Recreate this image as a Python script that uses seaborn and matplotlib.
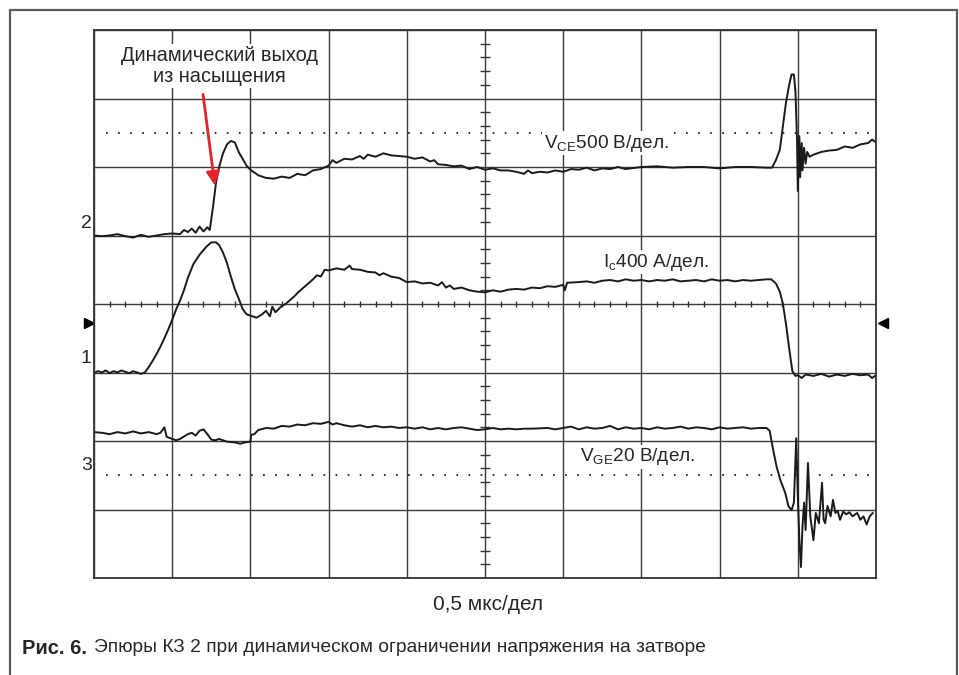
import numpy as np
import matplotlib
matplotlib.use("Agg")
import matplotlib.pyplot as plt
from matplotlib import font_manager
from matplotlib.lines import Line2D
import seaborn as sns

# %% data (divisions: 10 horizontal x 8 vertical)
vce_x = [0.0, 0.1, 0.2, 0.3, 0.4, 0.5, 0.6, 0.7, 0.8, 0.9, 1.0, 1.1, 1.15, 1.2, 1.25, 1.3, 1.35, 1.4, 1.45, 1.48,
         1.52, 1.56, 1.6, 1.65, 1.7, 1.75, 1.8, 1.85, 1.9, 1.95, 2.0, 2.1, 2.2, 2.3, 2.4, 2.5, 2.6, 2.7, 2.8, 2.9,
         3.0, 3.05, 3.1, 3.2, 3.3, 3.4, 3.45, 3.5, 3.6, 3.7, 3.8, 3.9, 4.0, 4.1, 4.2, 4.3, 4.35, 4.4, 4.5, 4.6,
         4.7, 4.8, 4.9, 5.0, 5.1, 5.2, 5.3, 5.4, 5.5, 5.55, 5.6, 5.7, 5.8, 5.9, 6.0, 6.1, 6.2, 6.3, 6.4, 6.5,
         6.6, 6.7, 6.8, 7.0, 7.2, 7.4, 7.6, 7.8, 8.0, 8.2, 8.4, 8.6, 8.67, 8.72, 8.77, 8.81, 8.85, 8.89, 8.92, 8.95,
         8.97, 8.99, 9.0, 9.02, 9.03, 9.05, 9.06, 9.08, 9.1, 9.12, 9.15, 9.2, 9.3, 9.4, 9.5, 9.6, 9.7, 9.8, 9.9, 9.95, 10.0]
vce_y = [5.00, 4.99, 5.00, 5.02, 4.99, 4.97, 5.01, 4.98, 5.00, 5.02, 5.03, 5.02, 5.08, 5.05, 5.10, 5.04, 5.13, 5.06, 5.12, 5.08,
         5.40, 5.77, 6.00, 6.20, 6.33, 6.38, 6.36, 6.22, 6.12, 6.02, 5.96, 5.88, 5.84, 5.83, 5.86, 5.84, 5.90, 5.88, 5.95, 5.97,
         6.02, 6.10, 6.06, 6.12, 6.11, 6.16, 6.12, 6.18, 6.15, 6.20, 6.17, 6.16, 6.15, 6.12, 6.14, 6.08, 6.10, 6.04, 6.03, 6.01,
         6.02, 5.97, 6.00, 5.96, 5.98, 5.95, 5.95, 5.93, 5.90, 5.95, 5.91, 5.93, 5.92, 5.95, 5.93, 5.97, 5.96, 5.99, 5.95, 5.98,
         5.97, 6.00, 5.97, 6.00, 6.01, 5.99, 6.00, 6.00, 5.98, 6.00, 6.00, 5.99, 5.99, 6.10, 6.25, 6.60, 6.95, 7.20, 7.35, 7.35,
         7.10, 6.40, 5.65, 6.45, 5.85, 6.35, 5.95, 6.28, 6.05, 6.22, 6.15, 6.18, 6.22, 6.24, 6.25, 6.30, 6.28, 6.33, 6.35, 6.40, 6.36]

ic_x = [0.0, 0.05, 0.1, 0.15, 0.2, 0.25, 0.3, 0.35, 0.4, 0.45, 0.5, 0.55, 0.6, 0.65, 0.7, 0.75, 0.8, 0.85, 0.9, 0.95,
        1.0, 1.05, 1.1, 1.15, 1.2, 1.27, 1.35, 1.44, 1.5, 1.56, 1.6, 1.65, 1.7, 1.75, 1.8, 1.85, 1.9, 1.95, 2.0, 2.08,
        2.15, 2.2, 2.25, 2.28, 2.32, 2.4, 2.45, 2.5, 2.55, 2.62, 2.7, 2.8, 2.85, 2.9, 2.95, 3.0, 3.1, 3.2, 3.27, 3.3,
        3.4, 3.5, 3.6, 3.65, 3.7, 3.8, 3.9, 4.0, 4.1, 4.2, 4.3, 4.4, 4.45, 4.5, 4.55, 4.6, 4.7, 4.8, 4.9, 5.0,
        5.1, 5.2, 5.3, 5.4, 5.5, 5.6, 5.7, 5.8, 5.9, 6.0, 6.02, 6.05, 6.2, 6.3, 6.4, 6.5, 6.6, 6.7, 6.8, 6.9,
        7.0, 7.1, 7.2, 7.3, 7.4, 7.5, 7.6, 7.7, 7.8, 7.9, 8.0, 8.1, 8.2, 8.3, 8.4, 8.5, 8.6, 8.66, 8.72, 8.77,
        8.81, 8.85, 8.89, 8.93, 8.97, 9.0, 9.05, 9.1, 9.2, 9.3, 9.4, 9.5, 9.6, 9.7, 9.8, 9.9, 9.95, 10.0]
ic_y = [2.99, 3.02, 3.00, 3.03, 2.99, 3.02, 3.00, 3.03, 3.01, 2.99, 3.02, 3.00, 2.98, 3.00, 3.08, 3.17, 3.27, 3.38, 3.50, 3.63,
        3.77, 3.92, 4.05, 4.20, 4.38, 4.58, 4.72, 4.84, 4.90, 4.90, 4.86, 4.75, 4.60, 4.40, 4.22, 4.08, 3.93, 3.85, 3.83, 3.80,
        3.85, 3.90, 3.82, 3.96, 3.88, 3.97, 4.00, 4.05, 4.10, 4.18, 4.26, 4.36, 4.42, 4.40, 4.50, 4.49, 4.52, 4.50, 4.56, 4.51,
        4.50, 4.47, 4.46, 4.42, 4.45, 4.40, 4.38, 4.32, 4.33, 4.30, 4.31, 4.27, 4.32, 4.24, 4.27, 4.22, 4.24, 4.20, 4.18, 4.17,
        4.20, 4.18, 4.21, 4.22, 4.21, 4.24, 4.23, 4.26, 4.25, 4.28, 4.20, 4.31, 4.32, 4.33, 4.31, 4.34, 4.35, 4.33, 4.36, 4.34,
        4.35, 4.33, 4.35, 4.34, 4.36, 4.33, 4.34, 4.35, 4.33, 4.36, 4.34, 4.35, 4.33, 4.35, 4.34, 4.35, 4.36, 4.36, 4.30, 4.18,
        4.00, 3.70, 3.35, 3.02, 2.95, 2.96, 2.92, 2.97, 2.95, 2.98, 2.94, 2.97, 2.95, 2.98, 2.96, 2.97, 2.92, 2.96]

vge_x = [0.0, 0.1, 0.2, 0.3, 0.4, 0.5, 0.6, 0.7, 0.8, 0.85, 0.9, 0.93, 1.0, 1.05, 1.1, 1.2, 1.25, 1.3, 1.35, 1.4,
         1.45, 1.5, 1.55, 1.6, 1.7, 1.8, 1.87, 1.93, 2.0, 2.01, 2.05, 2.1, 2.2, 2.3, 2.4, 2.5, 2.6, 2.7, 2.8, 2.9,
         3.0, 3.05, 3.1, 3.2, 3.3, 3.4, 3.5, 3.6, 3.7, 3.8, 3.9, 4.0, 4.1, 4.2, 4.3, 4.4, 4.5, 4.6, 4.7, 4.8,
         4.9, 5.0, 5.1, 5.2, 5.3, 5.4, 5.5, 5.6, 5.8, 5.9, 6.0, 6.1, 6.2, 6.3, 6.4, 6.5, 6.6, 6.7, 6.8, 6.9,
         7.0, 7.1, 7.2, 7.3, 7.4, 7.5, 7.6, 7.7, 7.8, 7.9, 8.0, 8.1, 8.2, 8.3, 8.4, 8.5, 8.6, 8.64, 8.68, 8.73,
         8.78, 8.84, 8.88, 8.92, 8.95, 8.98, 9.0, 9.02, 9.04, 9.06, 9.08, 9.1, 9.13, 9.16, 9.2, 9.23, 9.27, 9.31, 9.33, 9.35,
         9.38, 9.42, 9.45, 9.48, 9.51, 9.54, 9.58, 9.62, 9.66, 9.7, 9.76, 9.8, 9.84, 9.88, 9.92, 9.96]
vge_y = [2.13, 2.12, 2.10, 2.13, 2.11, 2.14, 2.11, 2.13, 2.10, 2.12, 2.20, 2.06, 2.03, 2.01, 2.03, 2.10, 2.12, 2.08, 2.15, 2.17,
         2.10, 2.02, 2.01, 2.03, 1.99, 1.98, 1.96, 1.98, 1.99, 2.09, 2.10, 2.16, 2.19, 2.18, 2.22, 2.21, 2.24, 2.23, 2.26, 2.25,
         2.28, 2.24, 2.26, 2.23, 2.21, 2.23, 2.20, 2.22, 2.20, 2.21, 2.19, 2.20, 2.18, 2.20, 2.17, 2.19, 2.17, 2.19, 2.20, 2.18,
         2.16, 2.17, 2.19, 2.17, 2.18, 2.17, 2.18, 2.18, 2.19, 2.17, 2.19, 2.21, 2.17, 2.20, 2.18, 2.19, 2.22, 2.17, 2.20, 2.18,
         2.19, 2.17, 2.20, 2.18, 2.19, 2.21, 2.18, 2.20, 2.19, 2.17, 2.20, 2.18, 2.19, 2.20, 2.18, 2.19, 2.19, 2.15, 1.90, 1.62,
         1.42, 1.24, 1.05, 0.99, 1.10, 2.04, 1.20, 0.55, 0.16, 0.75, 1.10, 0.70, 1.68, 0.90, 0.55, 0.95, 0.80, 1.39, 0.85, 0.80,
         1.05, 0.90, 1.14, 0.95, 0.98, 0.85, 0.97, 0.93, 0.96, 0.90, 0.95, 0.85, 0.90, 0.78, 0.90, 0.95]

labels = ["V$_\\mathregular{CE}$500 В/дел.", "I$_\\mathregular{c}$400 А/дел.", "V$_\\mathregular{GE}$20 В/дел."]
channels = ["2", "1", "3"]
note = "Динамический выход\nиз насыщения"
xlabel = "0,5 мкс/дел"
cap_bold = "Рис. 6."
cap_text = "Эпюры КЗ 2 при динамическом ограничении напряжения на затворе"

# %% style
sns.set_style("white")
plt.rcParams['font.family'] = ['Liberation Sans', 'DejaVu Sans']
names = {f.name for f in font_manager.fontManager.ttflist}
narrow = 'Liberation Sans Narrow' if 'Liberation Sans Narrow' in names else 'Liberation Sans'

fig = plt.figure(figsize=(9.59, 6.75), dpi=100)
ax = fig.add_axes([94/959, 1-578/675, 782/959, 548/675])
ax.set_xlim(0, 10)
ax.set_ylim(0, 8)
ax.set_xticks(range(11))
ax.set_yticks(range(9))
ax.tick_params(length=0, labelbottom=False, labelleft=False)
ax.grid(True, color='#3a3a3a', lw=1.0)
for s in ax.spines.values():
    s.set_color('#333333')
    s.set_linewidth(1.3)

# center ticks
tx = [v for v in np.arange(0.2, 10, 0.2) if abs(v-round(v)) > 0.01]
ty = [v for v in np.arange(0.2, 8, 0.2) if abs(v-round(v)) > 0.01]
ax.vlines(tx, 3.95, 4.05, color='#333333', lw=1.0)
ax.hlines(ty, 4.94, 5.06, color='#333333', lw=1.0)

# reference dotted lines
for yy in [6.5, 1.5]:
    ax.plot([0.15, 10], [yy, yy], color='#333333', lw=1.5, linestyle=(0, (0.8, 5.0)))

# traces
for xs, ys in [(vce_x, vce_y), (ic_x, ic_y), (vge_x, vge_y)]:
    sns.lineplot(x=xs, y=ys, ax=ax, color='#1a1a1a', lw=1.4, sort=False, estimator=None)

# labels on traces
box = dict(facecolor='white', edgecolor='none', pad=1.0)
ax.text(5.75, 6.35, labels[0], fontsize=13.7, va='center', ha='left', bbox=box, zorder=5)
ax.text(6.51, 4.61, labels[1], fontsize=13.7, va='center', ha='left', bbox=box, zorder=5)
ax.text(6.21, 1.77, labels[2], fontsize=13.7, va='center', ha='left', bbox=box, zorder=5)

# channel markers
for lab, yy in zip(channels, [5.18, 3.21, 1.64]):
    ax.text(-0.03, yy, lab, fontsize=14, ha='right', va='center', clip_on=False)
ax.plot([-0.07], [3.72], marker='>', color='black', ms=7, clip_on=False)
ax.plot([10.09], [3.72], marker='<', color='black', ms=7, clip_on=False)

# annotation
ax.text(1.6, 7.47, note, fontsize=14.4, ha='center', va='center', linespacing=1.15,
        bbox=dict(facecolor='white', edgecolor='none', pad=1.5), zorder=5)
ax.annotate('', xy=(1.55, 5.69), xytext=(1.39, 7.1),
            arrowprops=dict(arrowstyle='-|>', color='#e3222a', lw=2, mutation_scale=20), zorder=6)

# bottom texts
fig.text(488/959, 1-604/675, xlabel, fontsize=15, family=narrow, ha='center', va='center')
fig.text(22/959, 1-648/675, cap_bold, fontsize=14.5, family=narrow, weight='bold', ha='left', va='center')
fig.text(94/959, 1-648/675, cap_text, fontsize=13.8, family=narrow, ha='left', va='center')

# outer frame
fc = '#5a5a5a'
fig.add_artist(Line2D([10/959, 10/959], [0, 1-10/675], color=fc, lw=1.6))
fig.add_artist(Line2D([10/959, 957/959], [1-10/675, 1-10/675], color=fc, lw=1.6))
fig.add_artist(Line2D([957/959, 957/959], [0, 1-10/675], color=fc, lw=1.6))

fig.savefig("out.png", dpi=100)
